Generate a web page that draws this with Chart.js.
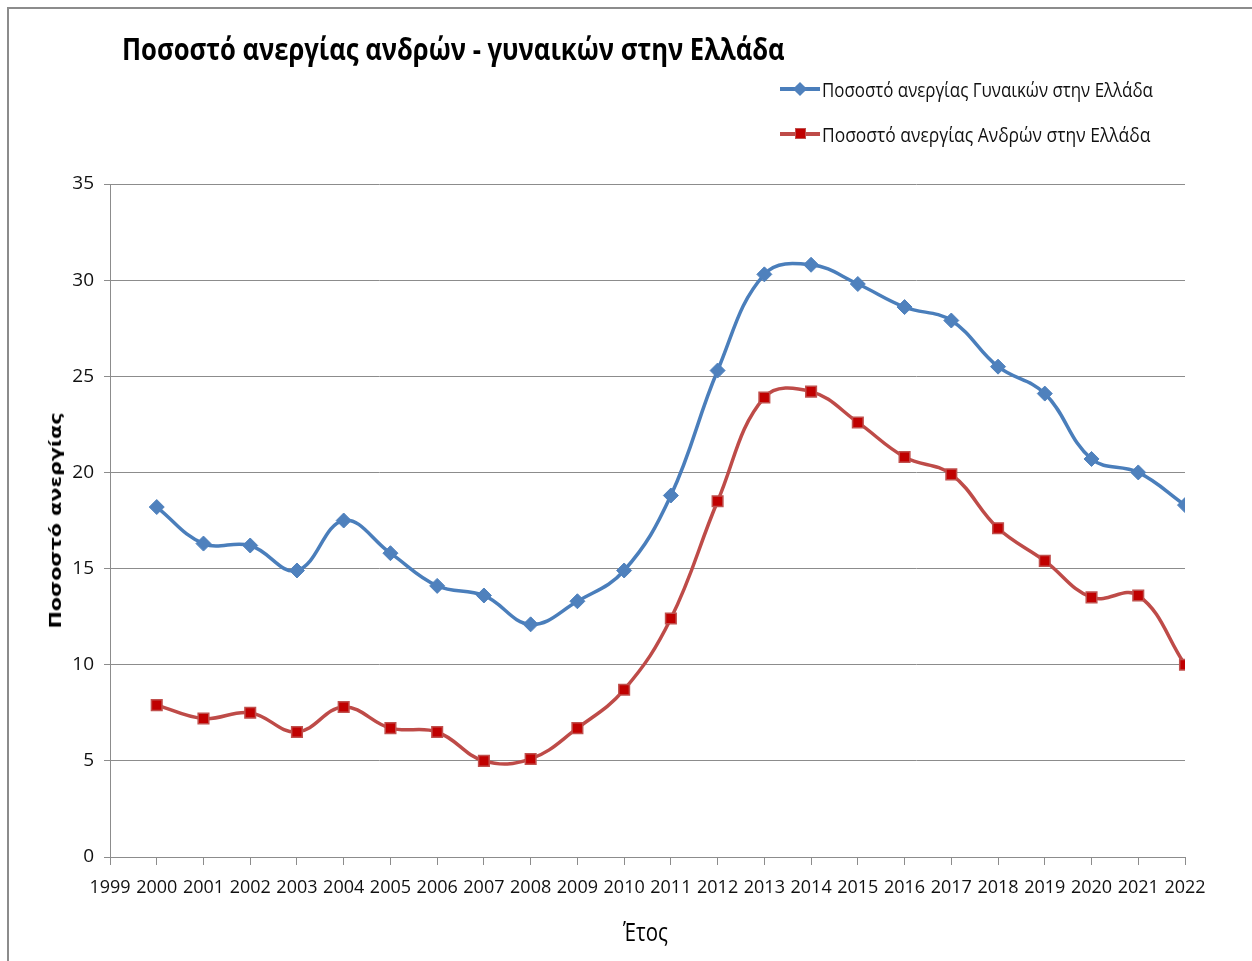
<!DOCTYPE html>
<html>
<head>
<meta charset="utf-8">
<script src="https://cdn.jsdelivr.net/npm/chart.js@4"></script>
<style>
    html, body { margin: 0; padding: 0; background: #fff; }
    #wrap { position: relative; width: 1252px; height: 961px; overflow: hidden; }
    #frame { position: absolute; left: 7px; top: 7px; width: 1260px; height: 970px;
             border-top: 2px solid #8c8c8c; border-left: 2px solid #8c8c8c; }
    canvas { position: absolute; left: 0; top: 0; }
    .txt { position: absolute; white-space: nowrap; transform-origin: 0 50%; color: #000; }
    #title { left: 122px; top: 48px; font: bold 30px "Open Sans", sans-serif; }
    #ytitle { left: 55px; top: 520px; font: bold 16px "DejaVu Sans", sans-serif;
              transform-origin: 50% 50%; }
    #xtitle { left: 645px; top: 931px; font: 25px "Open Sans", sans-serif; transform-origin: 50% 50%; }
    .leg { position: absolute; left: 780px; height: 30px; }
    .leg .line { position: absolute; left: 0; top: 13px; width: 40px; height: 4px; }
    .leg .mk { position: absolute; }
    .leg .lab { left: 42px; top: 15px; font: 20px "Open Sans", sans-serif; color: #111; }
</style>
</head>
<body>
<div id="wrap">
    <div id="frame"></div>
    <canvas id="chart" width="1252" height="961"></canvas>
    <div class="txt" id="title">Ποσοστό ανεργίας ανδρών - γυναικών στην Ελλάδα</div>
    <div class="txt" id="ytitle">Ποσοστό ανεργίας</div>
    <div class="txt" id="xtitle">Έτος</div>
    <div class="leg" style="top:74px">
        <div class="line" style="background:#4A7EBB"></div>
        <div class="mk" style="left:15px;top:10px;width:10px;height:10px;background:#4F81BD;transform:rotate(45deg)"></div>
        <div class="txt lab" id="leg1">Ποσοστό ανεργίας Γυναικών στην  Ελλάδα</div>
    </div>
    <div class="leg" style="top:119px">
        <div class="line" style="background:#BE4B48"></div>
        <div class="mk" style="left:15px;top:9px;width:9px;height:9px;background:#C00000;border:1px solid #C0504D"></div>
        <div class="txt lab" id="leg2">Ποσοστό ανεργίας  Ανδρών  στην  Ελλάδα</div>
    </div>
</div>
<script>
// ===== Data =====
const years = [2000, 2001, 2002, 2003, 2004, 2005, 2006, 2007, 2008, 2009, 2010, 2011,
               2012, 2013, 2014, 2015, 2016, 2017, 2018, 2019, 2020, 2021, 2022];
const women = [18.2, 16.3, 16.2, 14.9, 17.5, 15.8, 14.1, 13.6, 12.1, 13.3, 14.9, 18.8,
               25.3, 30.3, 30.8, 29.8, 28.6, 27.9, 25.5, 24.1, 20.7, 20.0, 18.3];
const men = [7.9, 7.2, 7.5, 6.5, 7.8, 6.7, 6.5, 5.0, 5.1, 6.7, 8.7, 12.4,
             18.5, 23.9, 24.2, 22.6, 20.8, 19.9, 17.1, 15.4, 13.5, 13.6, 10.0];
const womenLabel = 'Ποσοστό ανεργίας Γυναικών στην  Ελλάδα';
const menLabel = 'Ποσοστό ανεργίας  Ανδρών  στην  Ελλάδα';
const xMin = 1999, xMax = 2022;
const yMin = 0, yMax = 35, yStep = 5;

// squeeze html text to the width it has in the picture
function fitWidth(id, w, centred) {
    const el = document.getElementById(id);
    const s = w / el.offsetWidth;
    if (centred) {
        el.style.left = (parseFloat(getComputedStyle(el).left) - el.offsetWidth / 2) + 'px';
    }
    el.style.top = (parseFloat(getComputedStyle(el).top) - el.offsetHeight / 2) + 'px';
    return { el, s };
}

const t = fitWidth('title', 663, false);
t.el.style.transform = `scaleX(${t.s})`;
const l1 = fitWidth('leg1', 331, false);
l1.el.style.transform = `scaleX(${l1.s})`;
const l2 = fitWidth('leg2', 328, false);
l2.el.style.transform = `scaleX(${l2.s})`;
const yt = fitWidth('ytitle', 216, true);
yt.el.style.transform = `rotate(-90deg) scaleX(${yt.s})`;
const xt = fitWidth('xtitle', 45, true);
xt.el.style.transform = `scaleX(${xt.s})`;

const ctx = document.getElementById('chart').getContext('2d');

new Chart(ctx, {
    type: 'line',
    data: {
        datasets: [{
            label: womenLabel,
            data: years.map((yr, i) => ({ x: yr, y: women[i] })),
            borderColor: '#4A7EBB',
            backgroundColor: '#4F81BD',
            borderWidth: 3.5,
            pointStyle: 'rectRot',
            pointRadius: 7.5,
            pointBorderWidth: 1,
            pointBorderColor: '#4F81BD',
            pointBackgroundColor: '#4F81BD',
            tension: 0.4
        }, {
            label: menLabel,
            data: years.map((yr, i) => ({ x: yr, y: men[i] })),
            borderColor: '#BE4B48',
            backgroundColor: '#C00000',
            borderWidth: 3.5,
            pointStyle: 'rect',
            pointRadius: 7.5,
            pointBorderWidth: 1.5,
            pointBorderColor: '#C0504D',
            pointBackgroundColor: '#C00000',
            tension: 0.4
        }]
    },
    options: {
        responsive: false,
        animation: false,
        layout: { padding: { left: 0, top: 184, right: 67, bottom: 0 } },
        plugins: {
            legend: { display: false },
            title: { display: false },
            tooltip: { enabled: false }
        },
        scales: {
            x: {
                type: 'linear',
                min: xMin,
                max: xMax,
                afterFit: (scale) => { scale.height = 104; },
                ticks: {
                    stepSize: 1,
                    autoSkip: false,
                    maxRotation: 0,
                    padding: 12,
                    color: '#111',
                    font: { family: 'Open Sans', size: 18 },
                    callback: (v) => String(v)
                },
                grid: { drawOnChartArea: false, drawTicks: true, tickLength: 8, color: '#8c8c8c' },
                border: { color: '#8c8c8c', width: 1 }
            },
            y: {
                min: yMin,
                max: yMax,
                afterFit: (scale) => { scale.width = 110; },
                ticks: {
                    stepSize: yStep,
                    padding: 10,
                    color: '#111',
                    font: { family: 'Open Sans', size: 19 }
                },
                grid: { color: '#8c8c8c', tickLength: 6, lineWidth: 1 },
                border: { color: '#8c8c8c', width: 1 }
            }
        }
    }
});
</script>
</body>
</html>
